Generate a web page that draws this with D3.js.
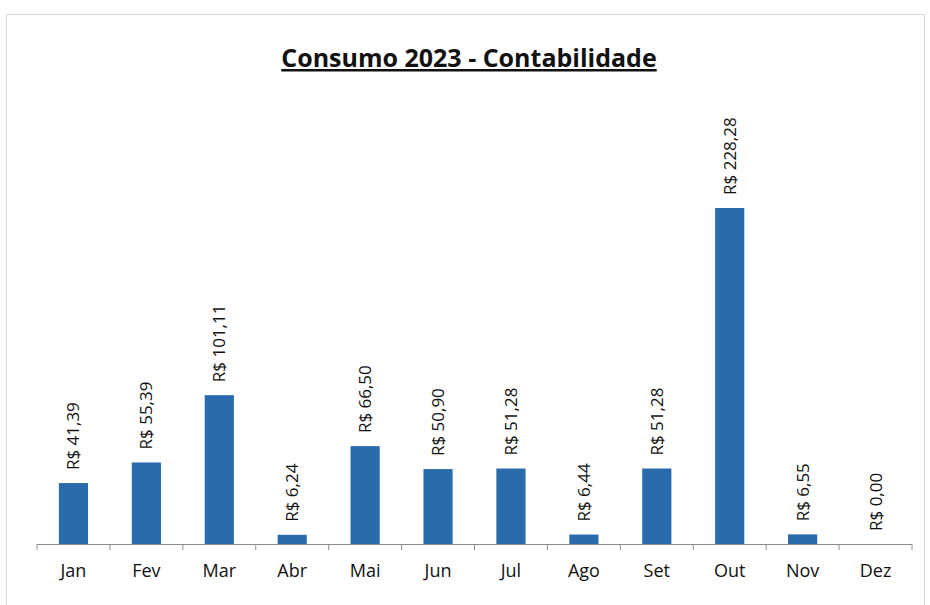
<!DOCTYPE html>
<html>
<head>
<meta charset="utf-8">
<script src="https://cdn.jsdelivr.net/npm/d3@7"></script>
<style>
  body { margin: 0; background: #fff; }
  svg text { font-family: "Open Sans", "Noto Sans", sans-serif; fill: #111; }
</style>
</head>
<body>
<script>
// chart data
var months = ['Jan','Fev','Mar','Abr','Mai','Jun','Jul','Ago','Set','Out','Nov','Dez'];
var values = [41.39, 55.39, 101.11, 6.24, 66.50, 50.90, 51.28, 6.44, 51.28, 228.28, 6.55, 0.00];
var valueLabels = ['R$ 41,39','R$ 55,39','R$ 101,11','R$ 6,24','R$ 66,50','R$ 50,90',
                   'R$ 51,28','R$ 6,44','R$ 51,28','R$ 228,28','R$ 6,55','R$ 0,00'];

var width = 930, height = 605;
var svg = d3.select('body').append('svg')
    .attr('width', width)
    .attr('height', height);

// faint outer border of the chart area
svg.append('rect')
    .attr('x', 6.5).attr('y', 14.5)
    .attr('width', 918).attr('height', 600)
    .attr('fill', 'none')
    .attr('stroke', '#d4d8d8')
    .attr('stroke-width', 1);

// title
svg.append('text')
    .attr('x', 469).attr('y', 67)
    .attr('text-anchor', 'middle')
    .style('font-size', '25px')
    .style('font-weight', 'bold')
    .style('text-decoration', 'underline')
    .text('Consumo 2023 - Contabilidade');

var x = d3.scaleBand()
    .domain(months)
    .range([37, 912])
    .paddingInner(0.6)
    .paddingOuter(0.3);

var y = d3.scaleLinear()
    .domain([0, 250])
    .range([544, 176]);

// bars
svg.append('g').selectAll('rect')
    .data(values)
    .enter().append('rect')
        .attr('x', function(d, i) { return x(months[i]); })
        .attr('y', function(d) { return y(d); })
        .attr('width', x.bandwidth())
        .attr('height', function(d) { return y(0) - y(d); })
        .attr('fill', '#2a6cab');

// rotated value labels
svg.append('g').selectAll('text')
    .data(values)
    .enter().append('text')
        .attr('transform', function(d, i) {
            var cx = x(months[i]) + x.bandwidth() / 2;
            return 'translate(' + (cx + 6) + ',' + (y(d) - 13) + ') rotate(-90)';
        })
        .attr('text-anchor', 'start')
        .style('font-size', '17px')
        .text(function(d, i) { return valueLabels[i]; });

// category axis
var step = (912 - 37) / months.length;
var axis = svg.append('g');
axis.append('line')
    .attr('x1', 37).attr('x2', 912)
    .attr('y1', 544.5).attr('y2', 544.5)
    .attr('stroke', '#8c8c8c');
axis.selectAll('line.tick')
    .data(d3.range(months.length + 1))
    .enter().append('line')
        .attr('class', 'tick')
        .attr('x1', function(i) { return 37 + i * step; })
        .attr('x2', function(i) { return 37 + i * step; })
        .attr('y1', 544).attr('y2', 550)
        .attr('stroke', '#8c8c8c');
axis.selectAll('text')
    .data(months)
    .enter().append('text')
        .attr('x', function(d) { return x(d) + x.bandwidth() / 2; })
        .attr('y', 577)
        .attr('text-anchor', 'middle')
        .style('font-size', '18px')
        .text(function(d) { return d; });
</script>
</body>
</html>
